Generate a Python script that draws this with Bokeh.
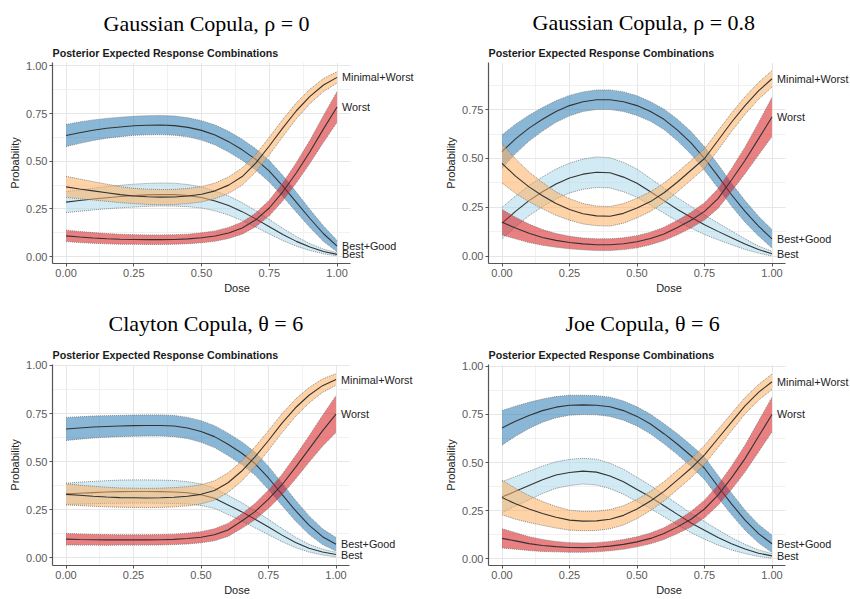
from bokeh.plotting import figure
from bokeh.models import (Range1d, FixedTicker, NumeralTickFormatter, Label, Title, Grid)
from bokeh.layouts import column, row
from bokeh.embed import file_html
from bokeh.resources import INLINE

# ---------------- data ----------------
DOSE = [0.0, 0.05, 0.1, 0.15, 0.2, 0.25, 0.3, 0.35, 0.4, 0.45, 0.5,
        0.55, 0.6, 0.65, 0.7, 0.75, 0.8, 0.85, 0.9, 0.95, 1.0]
TICKS = [0.0, 0.25, 0.5, 0.75, 1.0]
MINOR_TICKS = [0.125, 0.375, 0.625, 0.875]
SERIES = ["Best+Good", "Best", "Minimal+Worst", "Worst"]
COLORS = ["#2C7BB6", "#ABD9E9", "#FDAE61", "#D7191C"]
TITLES = ["Gaussian Copula, \u03c1 = 0", "Gaussian Copula, \u03c1 = 0.8",
          "Clayton Copula, \u03b8 = 6", "Joe Copula, \u03b8 = 6"]
SUBTITLE = "Posterior Expected Response Combinations"

# Gaussian copula, rho = 0  (mean and half-width of the credible band)
g0_bestgood = [0.635, 0.65, 0.663, 0.673, 0.68, 0.686, 0.689, 0.69, 0.687, 0.678, 0.662,
               0.638, 0.603, 0.56, 0.51, 0.448, 0.37, 0.285, 0.2, 0.12, 0.055]
g0_bestgood_hw = [0.058, 0.056, 0.054, 0.052, 0.051, 0.05, 0.05, 0.05, 0.05, 0.05, 0.051,
                  0.052, 0.054, 0.055, 0.056, 0.056, 0.055, 0.052, 0.047, 0.04, 0.03]
g0_best = [0.286, 0.294, 0.302, 0.309, 0.315, 0.32, 0.324, 0.326, 0.325, 0.32, 0.31,
           0.292, 0.268, 0.236, 0.198, 0.157, 0.116, 0.08, 0.05, 0.027, 0.012]
g0_best_hw = [0.055, 0.056, 0.057, 0.058, 0.059, 0.06, 0.06, 0.06, 0.06, 0.058, 0.055,
              0.052, 0.05, 0.047, 0.043, 0.038, 0.032, 0.025, 0.018, 0.012, 0.008]
g0_minworst = [0.366, 0.355, 0.345, 0.335, 0.325, 0.318, 0.314, 0.312, 0.313, 0.318, 0.327,
               0.345, 0.375, 0.42, 0.49, 0.58, 0.675, 0.765, 0.84, 0.9, 0.94]
g0_minworst_hw = [0.055, 0.052, 0.048, 0.045, 0.042, 0.04, 0.04, 0.04, 0.04, 0.04, 0.04,
                  0.041, 0.043, 0.045, 0.046, 0.046, 0.045, 0.042, 0.038, 0.034, 0.03]
g0_worst = [0.109, 0.103, 0.098, 0.094, 0.091, 0.09, 0.089, 0.089, 0.09, 0.093, 0.099,
            0.108, 0.124, 0.15, 0.193, 0.255, 0.34, 0.44, 0.55, 0.67, 0.785]
g0_worst_hw = [0.03, 0.029, 0.028, 0.027, 0.026, 0.025, 0.025, 0.025, 0.025, 0.025, 0.026,
               0.027, 0.029, 0.032, 0.036, 0.041, 0.047, 0.053, 0.06, 0.07, 0.08]

# Gaussian copula, rho = 0.8
g8_bestgood = [0.535, 0.6, 0.655, 0.70, 0.74, 0.77, 0.79, 0.80, 0.80, 0.79, 0.77,
               0.74, 0.70, 0.645, 0.58, 0.50, 0.41, 0.315, 0.23, 0.155, 0.09]
g8_bestgood_hw = [0.085, 0.075, 0.066, 0.06, 0.055, 0.052, 0.05, 0.05, 0.05, 0.05, 0.05,
                  0.05, 0.052, 0.055, 0.058, 0.06, 0.06, 0.058, 0.055, 0.05, 0.047]
g8_best = [0.17, 0.23, 0.285, 0.33, 0.37, 0.40, 0.42, 0.43, 0.427, 0.405, 0.374,
           0.33, 0.285, 0.24, 0.2, 0.162, 0.128, 0.095, 0.063, 0.035, 0.014]
g8_best_hw = [0.08, 0.078, 0.077, 0.076, 0.076, 0.076, 0.077, 0.078, 0.077, 0.075, 0.072,
              0.068, 0.064, 0.06, 0.055, 0.05, 0.043, 0.035, 0.027, 0.018, 0.012]
g8_minworst = [0.475, 0.41, 0.355, 0.31, 0.27, 0.24, 0.218, 0.207, 0.205, 0.22, 0.247,
               0.28, 0.325, 0.38, 0.44, 0.50, 0.592, 0.685, 0.77, 0.845, 0.907]
g8_minworst_hw = [0.1, 0.088, 0.076, 0.067, 0.06, 0.055, 0.052, 0.05, 0.05, 0.05, 0.05,
                  0.05, 0.05, 0.05, 0.05, 0.05, 0.049, 0.047, 0.045, 0.043, 0.042]
g8_worst = [0.175, 0.145, 0.118, 0.097, 0.082, 0.071, 0.064, 0.06, 0.06, 0.065, 0.075,
            0.092, 0.115, 0.148, 0.185, 0.23, 0.295, 0.39, 0.49, 0.6, 0.712]
g8_worst_hw = [0.065, 0.055, 0.047, 0.04, 0.035, 0.032, 0.03, 0.03, 0.03, 0.03, 0.031,
               0.032, 0.034, 0.037, 0.04, 0.044, 0.05, 0.058, 0.068, 0.082, 0.1]

# Clayton copula, theta = 6
cl_bestgood = [0.67, 0.675, 0.68, 0.683, 0.685, 0.687, 0.688, 0.688, 0.685, 0.675, 0.657,
               0.63, 0.59, 0.545, 0.49, 0.415, 0.33, 0.245, 0.17, 0.11, 0.07]
cl_bestgood_hw = [0.06, 0.058, 0.057, 0.056, 0.055, 0.055, 0.055, 0.055, 0.055, 0.055, 0.056,
                  0.057, 0.058, 0.059, 0.06, 0.06, 0.058, 0.054, 0.048, 0.041, 0.035]
cl_best = [0.333, 0.336, 0.339, 0.342, 0.344, 0.345, 0.345, 0.344, 0.342, 0.338, 0.328,
           0.31, 0.275, 0.24, 0.2, 0.16, 0.118, 0.08, 0.05, 0.03, 0.017]
cl_best_hw = [0.055, 0.057, 0.058, 0.059, 0.06, 0.06, 0.06, 0.06, 0.06, 0.058, 0.056,
              0.053, 0.05, 0.047, 0.044, 0.04, 0.034, 0.027, 0.02, 0.015, 0.012]
cl_minworst = [0.33, 0.325, 0.32, 0.316, 0.313, 0.312, 0.311, 0.312, 0.315, 0.32, 0.33,
               0.35, 0.39, 0.45, 0.525, 0.61, 0.7, 0.78, 0.845, 0.895, 0.927]
cl_minworst_hw = [0.055, 0.053, 0.052, 0.051, 0.05, 0.05, 0.05, 0.05, 0.05, 0.05, 0.05,
                  0.05, 0.051, 0.052, 0.052, 0.051, 0.049, 0.045, 0.04, 0.035, 0.03]
cl_worst = [0.097, 0.095, 0.094, 0.093, 0.093, 0.093, 0.093, 0.094, 0.096, 0.1, 0.107,
            0.12, 0.145, 0.19, 0.24, 0.305, 0.38, 0.47, 0.565, 0.66, 0.747]
cl_worst_hw = [0.03, 0.029, 0.028, 0.028, 0.027, 0.027, 0.027, 0.027, 0.027, 0.028, 0.029,
               0.031, 0.034, 0.038, 0.042, 0.047, 0.053, 0.06, 0.068, 0.08, 0.095]

# Joe copula, theta = 6
jo_bestgood = [0.68, 0.715, 0.745, 0.77, 0.788, 0.798, 0.8, 0.798, 0.79, 0.77, 0.74,
               0.7, 0.65, 0.595, 0.535, 0.47, 0.375, 0.285, 0.2, 0.13, 0.077]
jo_bestgood_hw = [0.09, 0.078, 0.068, 0.06, 0.055, 0.052, 0.05, 0.05, 0.05, 0.05, 0.05,
                  0.051, 0.052, 0.054, 0.056, 0.058, 0.058, 0.056, 0.052, 0.048, 0.045]
jo_best = [0.32, 0.35, 0.38, 0.41, 0.435, 0.448, 0.455, 0.45, 0.43, 0.4, 0.36,
           0.32, 0.275, 0.23, 0.185, 0.147, 0.11, 0.077, 0.05, 0.028, 0.014]
jo_best_hw = [0.08, 0.077, 0.074, 0.071, 0.069, 0.068, 0.067, 0.067, 0.066, 0.065, 0.063,
              0.06, 0.057, 0.054, 0.05, 0.046, 0.04, 0.032, 0.024, 0.017, 0.012]
jo_minworst = [0.318, 0.285, 0.258, 0.235, 0.215, 0.2, 0.195, 0.196, 0.205, 0.225, 0.258,
               0.3, 0.35, 0.41, 0.47, 0.54, 0.625, 0.71, 0.795, 0.865, 0.92]
jo_minworst_hw = [0.09, 0.08, 0.07, 0.062, 0.056, 0.052, 0.05, 0.05, 0.05, 0.05, 0.05,
                  0.05, 0.05, 0.05, 0.05, 0.049, 0.047, 0.045, 0.043, 0.041, 0.04]
jo_worst = [0.105, 0.092, 0.078, 0.068, 0.062, 0.058, 0.057, 0.059, 0.065, 0.074, 0.087,
            0.105, 0.13, 0.165, 0.205, 0.258, 0.33, 0.42, 0.52, 0.635, 0.75]
jo_worst_hw = [0.05, 0.043, 0.036, 0.031, 0.027, 0.025, 0.024, 0.024, 0.024, 0.025, 0.026,
               0.028, 0.031, 0.035, 0.04, 0.046, 0.053, 0.061, 0.07, 0.08, 0.09]

PANELS = [
    (TITLES[0], [g0_bestgood, g0_best, g0_minworst, g0_worst],
     [g0_bestgood_hw, g0_best_hw, g0_minworst_hw, g0_worst_hw], (-0.036, 1.018)),
    (TITLES[1], [g8_bestgood, g8_best, g8_minworst, g8_worst],
     [g8_bestgood_hw, g8_best_hw, g8_minworst_hw, g8_worst_hw], (-0.036, 0.99)),
    (TITLES[2], [cl_bestgood, cl_best, cl_minworst, cl_worst],
     [cl_bestgood_hw, cl_best_hw, cl_minworst_hw, cl_worst_hw], (-0.04, 1.005)),
    (TITLES[3], [jo_bestgood, jo_best, jo_minworst, jo_worst],
     [jo_bestgood_hw, jo_best_hw, jo_minworst_hw, jo_worst_hw], (-0.036, 1.01)),
]

SANS = "Liberation Sans"
SERIF = "Liberation Serif"
X0, X1 = -0.05, 1.05          # panel extent in dose units


def make_panel(title, means, hws, yr, width, height, left, right, top, bottom,
               px_per_unit, toff, big_standoff):
    frame_w = width - left - right
    x_end = X0 + frame_w / px_per_unit   # frame also holds the end labels
    p = figure(width=width, height=height, output_backend="svg", toolbar_location=None,
               tools="", x_range=Range1d(X0, x_end), y_range=Range1d(*yr),
               min_border_left=left, min_border_right=right,
               min_border_top=top, min_border_bottom=bottom,
               title=title)
    p.outline_line_color = None
    p.background_fill_color = "white"
    p.border_fill_color = "white"

    p.title.text_font = SERIF
    p.title.text_font_size = "22px"
    p.title.text_font_style = "normal"
    p.title.text_color = "#000000"
    p.title.align = "left"
    p.title.offset = toff
    p.title.standoff = big_standoff
    sub = Title(text=SUBTITLE, align="left", text_font=SANS, text_font_size="10.7px",
                text_font_style="bold", text_color="#1a1a1a", offset=0, standoff=8)
    p.add_layout(sub, "above")

    for ax in (p.xaxis[0], p.yaxis[0]):
        ax.ticker = FixedTicker(ticks=TICKS, minor_ticks=MINOR_TICKS)
        ax.formatter = NumeralTickFormatter(format="0.00")
        ax.axis_line_color = "#555555"
        ax.axis_line_width = 1.2
        ax.major_tick_line_color = "#555555"
        ax.major_tick_out = 3
        ax.major_tick_in = 0
        ax.minor_tick_line_color = None
        ax.major_label_text_font = SANS
        ax.major_label_text_font_size = "11px"
        ax.major_label_text_color = "#5a5a5a"
        ax.major_label_standoff = 1
        ax.axis_label_text_font = SANS
        ax.axis_label_text_font_size = "11px"
        ax.axis_label_text_font_style = "normal"
        ax.axis_label_text_color = "#222222"
        ax.axis_label_standoff = 2
    p.xaxis.axis_label = "Dose"
    p.yaxis.axis_label = "Probability"
    p.xaxis.bounds = (X0, X1)

    has_cross = "cross_bounds" in Grid.properties()
    for g in (p.xgrid[0], p.ygrid[0]):
        g.grid_line_color = "#e6e6e6"
        g.grid_line_width = 1
        g.minor_grid_line_color = "#eeeeee"
        g.minor_grid_line_width = 0.8
    if has_cross:
        p.ygrid[0].cross_bounds = (X0, X1)
        p.xgrid[0].cross_bounds = yr
    else:
        # hide grid to the right of the panel (label area)
        p.quad(left=X1, right=x_end, bottom=yr[0], top=yr[1], fill_color="white",
               line_color=None, level="underlay")

    for mean, hw, col in zip(means, hws, COLORS):
        lo = [m - h for m, h in zip(mean, hw)]
        hi = [m + h for m, h in zip(mean, hw)]
        p.varea(x=DOSE, y1=lo, y2=hi, fill_color=col, fill_alpha=0.55)
        p.line(DOSE, lo, line_color="#7a7a7a", line_width=1, line_dash="1 1", line_alpha=0.85)
        p.line(DOSE, hi, line_color="#7a7a7a", line_width=1, line_dash="1 1", line_alpha=0.85)
        p.line(DOSE, mean, line_color="#333333", line_width=1.1)

    for mean, name in zip(means, SERIES):
        p.add_layout(Label(x=DOSE[-1], y=mean[-1], text=name, x_offset=5,
                           text_baseline="middle", text_align="left",
                           text_font=SANS, text_font_size="10.8px", text_color="#222222"))
    return p


p1 = make_panel(*PANELS[0], width=425, height=299, left=52, right=4, top=60, bottom=36,
                px_per_unit=271, toff=51, big_standoff=10)
p2 = make_panel(*PANELS[1], width=424, height=299, left=63, right=0, top=62, bottom=35,
                px_per_unit=270, toff=44, big_standoff=11)
p3 = make_panel(*PANELS[2], width=425, height=299, left=52, right=4, top=65, bottom=32,
                px_per_unit=270, toff=56, big_standoff=13)
p4 = make_panel(*PANELS[3], width=424, height=299, left=63, right=0, top=64, bottom=32,
                px_per_unit=270, toff=77, big_standoff=13)

layout = column(row(p1, p2, spacing=0), row(p3, p4, spacing=0), spacing=0)
open("out.html", "w").write(file_html(layout, INLINE))
